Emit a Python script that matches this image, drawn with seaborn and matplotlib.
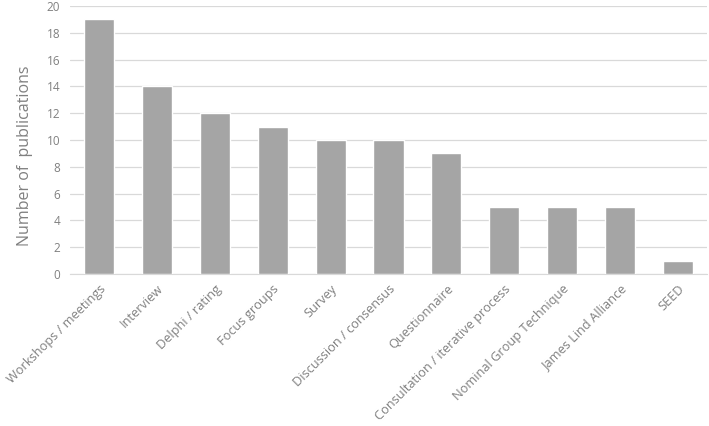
import matplotlib
matplotlib.use("Agg")
from matplotlib import pyplot as plt
import pandas as pd
import seaborn as sb

methods = ["Workshops / meetings", "Interview", "Delphi / rating", "Focus groups",
           "Survey", "Discussion / consensus", "Questionnaire",
           "Consultation / iterative process", "Nominal Group Technique",
           "James Lind Alliance", "SEED"]
counts = [19, 14, 12, 11, 10, 10, 9, 5, 5, 5, 1]
yticks = [0, 2, 4, 6, 8, 10, 12, 14, 16, 18, 20]

data = pd.DataFrame({"method": methods, "count": counts})

sb.set_style("white")
plt.rcParams["font.family"] = ["Open Sans", "DejaVu Sans"]

fig = plt.figure(figsize=(7.09, 4.26), dpi=100)
ax = fig.add_axes([70 / 709, 0.357, 637 / 709, 0.629])

sb.barplot(data=data, x="method", y="count", color="#a5a5a5", saturation=1,
           width=0.52, ax=ax, zorder=3)

ax.set_ylim(0, 20)
ax.set_yticks(yticks)
ax.set_xlim(-0.5, len(methods) - 0.5)
ax.yaxis.grid(True, color="#d9d9d9", linewidth=0.9, zorder=0)
ax.set_axisbelow(True)
for s in ["top", "right", "left"]:
    ax.spines[s].set_visible(False)
ax.spines["bottom"].set_color("#d9d9d9")
ax.tick_params(axis="both", length=0, colors="#808080", labelsize=8.5)
ax.tick_params(axis="y", pad=7)
ax.tick_params(axis="x", pad=6)
ax.set_xlabel("")
ax.set_ylabel("Number of  publications", fontsize=11.5, color="#808080")
ax.yaxis.set_label_coords(-0.058, 0.44)
plt.setp(ax.get_xticklabels(), rotation=45, ha="right", rotation_mode="anchor",
         fontsize=9.2, color="#808080")

fig.savefig("out.png", dpi=100)
